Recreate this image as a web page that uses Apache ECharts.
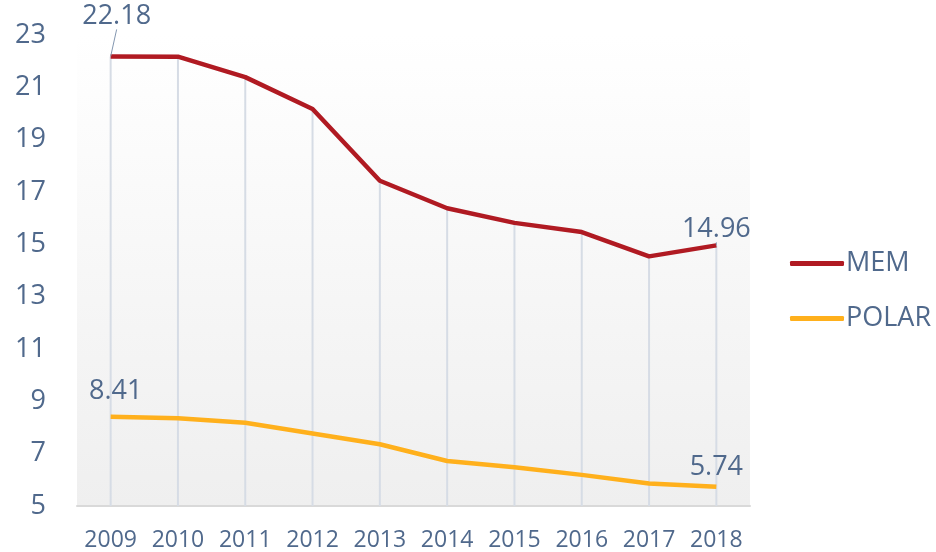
<!DOCTYPE html>
<html>
<head>
<meta charset="utf-8">
<script src="https://cdn.jsdelivr.net/npm/echarts@6/dist/echarts.min.js"></script>
<style>
html, body { margin: 0; padding: 0; background: #fff; }
#main { width: 936px; height: 552px; }
</style>
</head>
<body>
<div id="main"></div>
<script>
// data
var years = ['2009', '2010', '2011', '2012', '2013', '2014', '2015', '2016', '2017', '2018']
var memValues = [22.18, 22.17, 21.39, 20.17, 17.43, 16.38, 15.82, 15.47, 14.54, 14.96]
var polarValues = [8.41, 8.35, 8.18, 7.77, 7.36, 6.72, 6.48, 6.19, 5.86, 5.74]
var seriesNames = ['MEM', 'POLAR']

var textColor = '#50698C'
var font = 'Open Sans'
var last = years.length - 1

// only first and last point get a label
function withEndLabels (values) {
  return values.map(function (v, i) {
    return { value: v, label: { show: i === 0 || i === last } }
  })
}

var chart = echarts.init(document.getElementById('main'))
chart.setOption({
  animation: false,
  textStyle: { fontFamily: font, color: textColor },
  grid: {
    left: 77,
    right: 186,
    top: 35,
    bottom: 44,
    show: true,
    borderWidth: 0,
    backgroundColor: new echarts.graphic.LinearGradient(0, 0, 0, 1, [
      { offset: 0, color: '#FFFFFF' },
      { offset: 1, color: '#EFEFEF' }
    ])
  },
  legend: {
    orient: 'vertical',
    left: 785,
    top: 245,
    itemGap: 28,
    itemWidth: 54,
    itemHeight: 5,
    icon: 'roundRect',
    data: seriesNames,
    textStyle: { fontFamily: font, fontSize: 27, color: textColor, padding: [0, 0, 0, -3] }
  },
  xAxis: {
    type: 'category',
    data: years,
    axisLine: { lineStyle: { color: '#D9D9D9', width: 2 } },
    axisTick: { show: false },
    axisLabel: { interval: 0, fontFamily: font, fontSize: 23, color: textColor, margin: 23 }
  },
  yAxis: {
    type: 'value',
    min: 5,
    max: 23,
    interval: 2,
    axisLine: { show: false },
    axisTick: { show: false },
    splitLine: { show: false },
    axisLabel: { fontFamily: font, fontSize: 27, color: textColor, margin: 31 }
  },
  series: [
    {
      // drop lines from MEM points down to the axis
      name: 'drop',
      type: 'bar',
      data: memValues,
      barWidth: 2,
      silent: true,
      z: 1,
      itemStyle: { color: '#D6DCE5' }
    },
    {
      name: 'MEM',
      type: 'line',
      data: withEndLabels(memValues),
      symbol: 'circle',
      symbolSize: 0.1,
      z: 3,
      lineStyle: { color: '#B01A22', width: 4.5 },
      itemStyle: { color: '#B01A22' },
      label: {
        position: 'top',
        distance: 6,
        fontFamily: font,
        fontSize: 27,
        color: textColor
      },
      labelLayout: function (params) {
        if (params.dataIndex === 0) return { dx: 6, dy: -21 }
        return { dy: 3 }
      },
      labelLine: { show: true, length2: 0, lineStyle: { color: '#8497B0', width: 1 } }
    },
    {
      name: 'POLAR',
      type: 'line',
      data: withEndLabels(polarValues),
      symbol: 'circle',
      symbolSize: 0.1,
      z: 2,
      lineStyle: { color: '#FFB01C', width: 4.5 },
      itemStyle: { color: '#FFB01C' },
      label: {
        position: 'top',
        distance: 6,
        fontFamily: font,
        fontSize: 27,
        color: textColor
      },
      labelLayout: function (params) {
        if (params.dataIndex === 0) return { dx: 5, dy: -6 }
        return {}
      }
    }
  ]
})
</script>
</body>
</html>
